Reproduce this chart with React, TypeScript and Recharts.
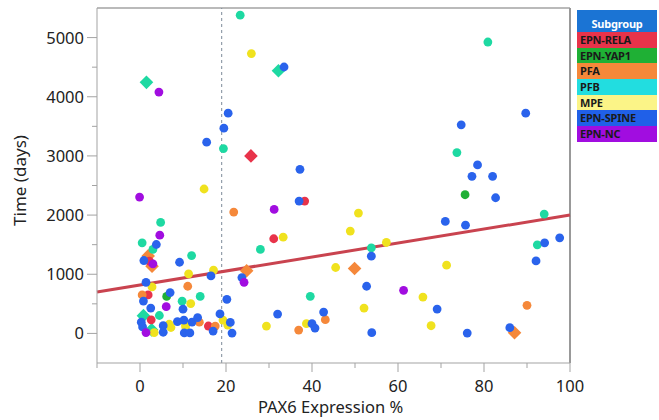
import { ScatterChart, Scatter, XAxis, YAxis, ReferenceLine, Label } from "recharts";

type Pt = [number, number];

// PAX6 expression % vs time (days), per subgroup; diamonds are the highlighted cases
const relaCircles: Pt[] = [[2.2, 1220], [1.9, 650], [2.6, 230], [15.9, 125], [31.1, 1600], [38.3, 2237]];
const relaDiamonds: Pt[] = [[25.8, 3000]];

const yap1Circles: Pt[] = [[6.2, 625], [75.6, 2344]];

const pfaCircles: Pt[] = [[0.5, 650], [11.1, 797], [13.8, 190], [17.5, 124], [21.8, 2051], [36.9, 56], [43.1, 232], [90.0, 475]];
const pfaDiamonds: Pt[] = [[1.9, 1310], [2.8, 1136], [24.8, 1060], [49.9, 1097], [87.1, 12]];

const pfbCircles: Pt[] = [
	[23.3, 5378], [80.9, 4925], [19.4, 3124], [73.7, 3056], [94.0, 2017], [92.4, 1497], [4.8, 1876], [0.5, 1531],
	[3.0, 1419], [12.0, 1316], [28.0, 1419], [53.8, 1446], [14.0, 625], [9.8, 545], [39.6, 627], [4.5, 303],
];
const pfbDiamonds: Pt[] = [[1.5, 4243], [32.2, 4440], [0.8, 300], [2.7, 60]];

const mpeCircles: Pt[] = [
	[25.9, 4729], [14.9, 2441], [50.8, 2034], [48.9, 1729], [33.3, 1627], [57.3, 1537], [45.5, 1114], [17.1, 1068],
	[11.3, 1008], [71.3, 1153], [2.8, 785], [11.8, 505], [52.1, 429], [65.8, 615], [67.7, 130], [19.3, 225],
	[20.4, 141], [29.4, 124], [38.7, 164], [3.3, 15], [6.8, 155], [7.2, 100], [10.6, 150], [10.6, 114],
];

const spineCircles: Pt[] = [
	[33.5, 4503], [20.5, 3723], [19.5, 3469], [15.5, 3232], [37.2, 2774], [89.7, 3723], [74.7, 3525], [78.5, 2847],
	[77.2, 2655], [82.0, 2655], [82.7, 2293], [71.0, 1893], [75.7, 1830], [94.1, 1531], [97.6, 1616], [92.1, 1226],
	[69.1, 412], [76.1, 5], [86.0, 97], [37.0, 2237], [53.8, 1305], [23.7, 944], [16.5, 971], [52.7, 797],
	[20.2, 576], [32.0, 327], [42.7, 361], [18.6, 330], [21.0, 186], [21.4, 5], [17.0, 39], [40.0, 164],
	[40.7, 90], [53.9, 12], [3.8, 1503], [0.9, 1232], [9.2, 1203], [1.4, 862], [7.0, 690], [0.8, 547],
	[10.0, 410], [2.5, 429], [0.3, 190], [0.6, 110], [5.4, 130], [5.4, 20], [8.7, 200], [10.2, 225],
	[10.3, 8], [11.6, 8], [12.1, 192], [13.4, 268],
];

const ncCircles: Pt[] = [[4.4, 4079], [-0.1, 2305], [4.6, 1661], [3.0, 1175], [31.2, 2096], [24.2, 864], [61.3, 729], [6.1, 452], [1.4, 15]];

const fitLine = [{ x: -10, y: 700 }, { x: 100, y: 2000 }];
const cutoffX = 19;

const xTicks = [-10, 0, 10, 20, 30, 40, 50, 60, 70, 80, 90, 100];
const yTicks = [0, 500, 1000, 1500, 2000, 2500, 3000, 3500, 4000, 4500, 5000];

const groups = [
	{ name: "EPN-RELA", color: "#e8334a", legend: "#e8334a", circles: relaCircles, diamonds: relaDiamonds },
	{ name: "EPN-YAP1", color: "#1fb035", legend: "#1fb035", circles: yap1Circles, diamonds: [] as Pt[] },
	{ name: "PFA", color: "#f5883a", legend: "#f5883a", circles: pfaCircles, diamonds: pfaDiamonds },
	{ name: "PFB", color: "#1ed9a2", legend: "#22dde0", circles: pfbCircles, diamonds: pfbDiamonds },
	{ name: "MPE", color: "#f0e21e", legend: "#fbf487", circles: mpeCircles, diamonds: [] as Pt[] },
	{ name: "EPN-SPINE", color: "#2a63ec", legend: "#2060e8", circles: spineCircles, diamonds: [] as Pt[] },
	{ name: "EPN-NC", color: "#a10de0", legend: "#a10de0", circles: ncCircles, diamonds: [] as Pt[] },
];

const font = "'Noto Sans', sans-serif";
const axisColor = "#a3a3a3";
const textColor = "#222";

const toXY = (pts: Pt[]) => pts.map(([x, y]) => ({ x, y }));

const CircleShape = (props: any) => <circle cx={props.cx} cy={props.cy} r={4.4} fill={props.fill} />;

const DiamondShape = (props: any) => {
	const { cx, cy, fill } = props;
	const r = 6.8;
	return <polygon points={`${cx},${cy - r} ${cx + r},${cy} ${cx},${cy + r} ${cx - r},${cy}`} fill={fill} />;
};

const XTick = (props: any) => {
	const { x, y, payload } = props;
	const major = payload.value % 20 === 0;
	return (
		<g>
			<line x1={x} x2={x} y1={y} y2={y + (major ? 9 : 5)} stroke={axisColor} />
			{major && (
				<text x={x} y={y + 29} textAnchor="middle" fontSize={16.5} fontFamily={font} fill={textColor}>
					{payload.value}
				</text>
			)}
		</g>
	);
};

const YTick = (props: any) => {
	const { x, y, payload } = props;
	const major = payload.value % 1000 === 0;
	return (
		<g>
			<line x1={x - (major ? 10 : 5)} x2={x} y1={y} y2={y} stroke={axisColor} />
			{major && (
				<text x={x - 13} y={y + 6} textAnchor="end" fontSize={16.5} fontFamily={font} fill={textColor}>
					{payload.value}
				</text>
			)}
		</g>
	);
};

function SubgroupLegend() {
	return (
		<div style={{ position: "absolute", left: 577, top: 10, width: 80, fontFamily: font, fontWeight: 700, fontSize: 11, letterSpacing: -0.2 }}>
			<div style={{ height: 22, background: "#1b74d4", color: "#fff", textAlign: "center", lineHeight: "28px" }}>Subgroup</div>
			{groups.map((g) => (
				<div key={g.name} style={{ height: 15.7, lineHeight: "15.7px", background: g.legend, color: "#1a1a1a", paddingLeft: 3 }}>
					{g.name}
				</div>
			))}
		</div>
	);
}

export default function App() {
	return (
		<div style={{ position: "absolute", left: 0, top: 0, width: 659, height: 420, background: "#fff" }}>
			<ScatterChart width={659} height={420} margin={{ top: 8, right: 89, bottom: 0, left: 0 }}>
				<XAxis
					type="number"
					dataKey="x"
					domain={[-10, 100]}
					ticks={xTicks}
					interval={0}
					tickSize={0}
					tickMargin={0}
					tickLine={false}
					tick={XTick}
					axisLine={{ stroke: axisColor }}
					height={57}
					allowDataOverflow
				>
					<Label
						content={(p: any) => (
							<text x={p.viewBox.x + p.viewBox.width / 2 - 3} y={p.viewBox.y + 50} textAnchor="middle" fontSize={16.5} fontFamily={font} fill={textColor}>
								PAX6 Expression %
							</text>
						)}
					/>
				</XAxis>
				<YAxis
					type="number"
					dataKey="y"
					domain={[-500, 5500]}
					ticks={yTicks}
					interval={0}
					tickSize={0}
					tickMargin={0}
					tickLine={false}
					tick={YTick}
					axisLine={{ stroke: axisColor }}
					width={97}
					allowDataOverflow
				>
					<Label
						content={(p: any) => {
							const cx = 19;
							const cy = p.viewBox.y + p.viewBox.height / 2 - 5;
							return (
								<text x={cx} y={cy} transform={`rotate(-90 ${cx} ${cy})`} textAnchor="middle" dominantBaseline="central" fontSize={17} fontFamily={font} fill={textColor}>
									Time (days)
								</text>
							);
						}}
					/>
				</YAxis>
				<ReferenceLine y={5500} stroke={axisColor} strokeWidth={1.5} />
				<ReferenceLine x={100} stroke="#999" strokeWidth={2} />
				<ReferenceLine x={cutoffX} stroke="#7d8b99" strokeDasharray="3 3" strokeWidth={1} />
				<ReferenceLine segment={fitLine} stroke="#c9434f" strokeWidth={3} />
				{groups.map((g) =>
					g.diamonds.length ? (
						<Scatter key={g.name + "-d"} name={g.name} data={toXY(g.diamonds)} fill={g.color} shape={DiamondShape} isAnimationActive={false} />
					) : null
				)}
				{groups.map((g) => (
					<Scatter key={g.name} name={g.name} data={toXY(g.circles)} fill={g.color} shape={CircleShape} isAnimationActive={false} />
				))}
			</ScatterChart>
			<SubgroupLegend />
		</div>
	);
}
